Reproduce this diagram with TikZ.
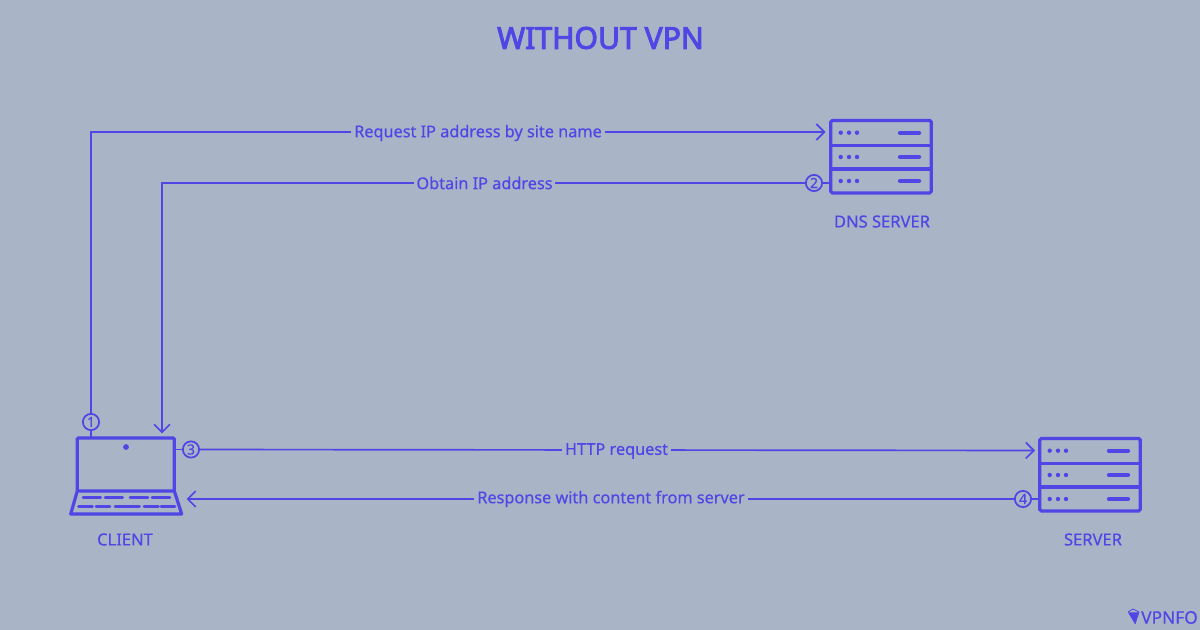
\documentclass[tikz,border=0pt]{standalone}
\usepackage{fontspec}
\setmainfont[FakeBold=0.35]{Noto Sans}
\newfontfamily\titlef[FakeBold=3.2]{Noto Sans}
\usetikzlibrary{arrows.meta}
\definecolor{bgc}{HTML}{A9B4C6}
\definecolor{ink}{HTML}{4F46E5}
\tikzset{
  x=0.75pt,y=-0.75pt,
  conn/.style={draw=ink,line width=1.25pt},
  arr/.style={conn,-{Straight Barb[length=6pt,width=12pt,line width=1.25pt]}},
  lbl/.style={fill=bgc,text=ink,font=\fontsize{12.2pt}{14pt}\selectfont,inner xsep=2.2pt,inner ysep=1pt},
  num/.style={circle,draw=ink,line width=1.3pt,text=ink,minimum size=12.2pt,inner sep=0pt,font=\fontsize{10.5pt}{11pt}\selectfont},
  captxt/.style={text=ink,font=\fontsize{12.4pt}{14pt}\selectfont,inner sep=0pt},
  boxn/.style={draw=ink,line width=2.4pt,rounded corners=1.2pt,minimum width=75.4pt,minimum height=54.4pt,inner sep=0pt},
  thick ink/.style={draw=ink,line width=2.4pt},
  keyl/.style={draw=ink,line width=2.2pt,line cap=round},
  barl/.style={draw=ink,line width=3.2pt,line cap=round},
}
\newcommand{\rackparts}[2]{%
  \begin{scope}[shift={(#1,#2)}]
    \draw[thick ink] (0,25.5) -- (102,25.5);
    \draw[thick ink] (0,49) -- (102,49);
    \foreach \yy in {12.7,37,61}{
      \fill[ink] (10.7,\yy) circle[radius=2.2];
      \fill[ink] (19,\yy) circle[radius=2.2];
      \fill[ink] (27,\yy) circle[radius=2.2];
      \draw[barl] (70,\yy) -- (89,\yy);
    }
  \end{scope}}
\begin{document}
\begin{tikzpicture}
\useasboundingbox[fill=bgc] (0,0) rectangle (1200,630);
\node[text=ink,font=\titlef\fontsize{22.6pt}{25pt}\selectfont,inner sep=0pt] (title) at (600.5,38) {WITHOUT VPN};

% DNS server
\node[boxn] (dns) at (881,156.7) {};
\rackparts{830}{120}
\node[captxt] (dnscap) at (882,221.5) {DNS SERVER};

% Server
\node[boxn] (srv) at (1090,474.7) {};
\rackparts{1039}{438}
\node[captxt] (srvcap) at (1093,539.5) {SERVER};

% Laptop
\node[draw=ink,line width=2.4pt,rounded corners=0.8pt,minimum width=72.8pt,minimum height=39.7pt,inner sep=0pt] (lap) at (125.7,464.5) {};
\draw[thick ink,line join=round] (77.3,491) -- (70.7,514) -- (181.7,514) -- (174.3,491);
\fill[ink] (126,447) circle[radius=2.9];
\foreach \a/\b in {83/100.7,105/122.7,130/148,152/170} \draw[keyl] (\a,497.3) -- (\b,497.3);
\foreach \a/\b in {78.5/92.3,96/110,115/139.3,144/158.3,161/175} \draw[keyl] (\a,506.3) -- (\b,506.3);
\node[captxt] (clientcap) at (125,539.5) {CLIENT};

% Numbers
\node[num] (n1) at (91,422) {1};
\node[num] (n2) at (814,183) {2};
\node[num] (n3) at (191,449.5) {3};
\node[num] (n4) at (1023,499) {4};

% Free ends
\coordinate (lapTop) at (91,437);
\coordinate (lapRight) at (175,449.5);
\coordinate (dnsLeft) at (830,183);
\coordinate (srvLeft) at (1039,499);
\coordinate (corner1) at (91,132);
\coordinate (dnsIn) at (825.5,132);
\coordinate (corner2) at (162,183);
\coordinate (lapIn) at (162,433.5);
\coordinate (srvIn) at (1035,450.5);
\coordinate (lapResp) at (186.5,499);

% Connectors
\draw[conn] (lapTop) -- (n1);
\draw[conn] (n2) -- (dnsLeft);
\draw[conn] (lapRight) -- (n3);
\draw[conn] (n4) -- (srvLeft);
\draw[arr] (n1) -- (corner1) -- (dnsIn);
\draw[arr] (n2) -- (corner2) -- (lapIn);
\draw[arr] (n3) -- (srvIn);
\draw[arr] (n4) -- (lapResp);

% Labels
\node[lbl] (l1) at (478,133) {Request IP address by site name};
\node[lbl] (l2) at (484.5,183) {Obtain IP address};
\node[lbl] (l3) at (616.5,451) {HTTP request};
\node[lbl] (l4) at (611,499) {Response with content from server};

% Logo
\fill[ink] (1128,612.5) -- (1138.5,612.5) -- (1135,624) -- cycle;
\draw[ink,line width=0.6pt,line join=round] (1128,612) -- (1133,609) -- (1139,612) -- (1135,624);
\node[text=ink,font=\fontsize{13pt}{14pt}\selectfont,inner sep=0pt] (brand) at (1169.5,617.5) {VPNFO};
\end{tikzpicture}
\end{document}
